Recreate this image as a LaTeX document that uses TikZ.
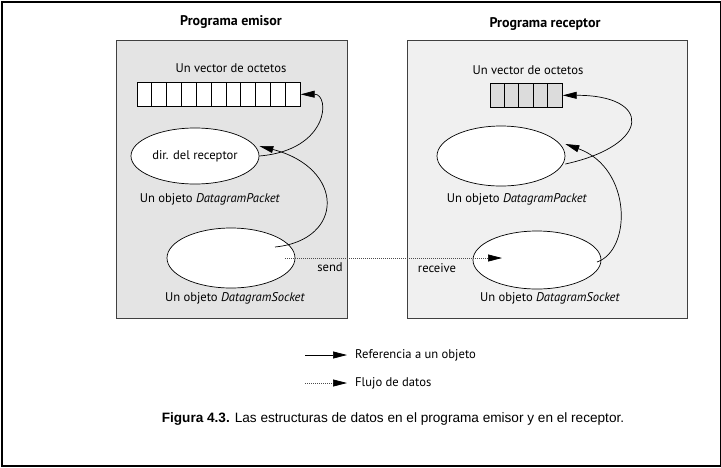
\documentclass[tikz,border=0pt]{standalone}
\usepackage{fontspec}
\setmainfont{PT Sans}
\newfontfamily\capfont{Liberation Sans}
\usetikzlibrary{arrows.meta,shapes.geometric}
\definecolor{boxL}{HTML}{E4E4E4}
\definecolor{boxR}{HTML}{F0F0F0}
\definecolor{cellR}{HTML}{DCDCDC}
\begin{document}
\begin{tikzpicture}[x=1pt,y=-1pt,
  tip/.style={-{Triangle[length=14pt,width=7pt,color=black]}},
  ref/.style={draw=black, line width=0.7pt, tip},
  flow/.style={draw=black!70, line width=0.7pt, dash pattern=on 1pt off 1pt, tip},
  progbox/.style={draw=black!75, line width=1pt, inner sep=0pt, anchor=north west},
  obj/.style={ellipse, draw=black, line width=0.7pt, fill=white, inner sep=0pt},
  lbl/.style={font=\fontsize{12.6}{14}\selectfont, inner sep=0pt},
  ttl/.style={font=\fontsize{14}{16}\selectfont\bfseries, inner sep=0pt},
  arr/.style={draw=black, line width=0.7pt, inner sep=0pt, anchor=north west}
]
\useasboundingbox (0,0) rectangle (721,467);
\node[draw=black, line width=2pt, minimum width=719pt, minimum height=464pt, anchor=north west, inner sep=0pt] (frame) at (1,1) {};
% boxes
\node[progbox, fill=boxL, minimum width=231pt, minimum height=278pt] (boxL) at (116,40) {};
\node[progbox, fill=boxR, minimum width=280pt, minimum height=278pt] (boxR) at (407,40) {};
\node[ttl] (tL) at (231,22) {Programa emisor};
\node[ttl] (tR) at (545,24) {Programa receptor};
% left side
\node[lbl] (vL) at (231,68) {Un vector de octetos};
\node[arr, fill=white, minimum width=163pt, minimum height=24pt] (aL) at (137,82) {};
\foreach \i in {1,...,10} \draw[line width=0.7pt] ([xshift=\i*14.818pt]aL.north west) -- ([xshift=\i*14.818pt]aL.south west);
\node[obj, minimum width=128pt, minimum height=56pt, font=\fontsize{12.6}{14}\selectfont] (e1L) at (195,156) {dir. del receptor};
\node[lbl] (pL) at (210,199) {Un objeto \textit{DatagramPacket}};
\node[obj, minimum width=128pt, minimum height=60pt] (e2L) at (231,258) {};
\node[lbl] (sL) at (235,298) {Un objeto \textit{DatagramSocket}};
% right side
\node[lbl] (vR) at (528,70) {Un vector de octetos};
\node[arr, fill=cellR, minimum width=72pt, minimum height=24pt] (aR) at (490,83) {};
\foreach \i in {1,...,4} \draw[line width=0.7pt] ([xshift=\i*14.4pt]aR.north west) -- ([xshift=\i*14.4pt]aR.south west);
\node[obj, minimum width=128pt, minimum height=60pt] (e1R) at (501,156) {};
\node[lbl] (pR) at (517,199) {Un objeto \textit{DatagramPacket}};
\node[obj, minimum width=128pt, minimum height=58pt] (e2R) at (537,260) {};
\node[lbl] (sR) at (550,298) {Un objeto \textit{DatagramSocket}};
% connectors
\coordinate (s2L) at ([xshift=44pt,yshift=11pt]e2L.center);
\coordinate (s2R) at ([xshift=60pt,yshift=-2pt]e2R.center);
\coordinate (fromL) at ([xshift=54pt,yshift=0pt]e2L.center);
\coordinate (toR) at ([xshift=-35pt,yshift=2pt]e2R.center);
\draw[ref] (e1L.east) .. controls (330,150) and (330,94) .. (aL.east);
\draw[ref] (s2L) .. controls (345,240) and (345,168) .. ([yshift=10pt]e1L.east);
\draw[ref] ([yshift=-8pt]e1R.east) .. controls (652,145) and (652,95) .. (aR.east);
\draw[ref] (s2R) .. controls (632,250) and (632,168) .. ([yshift=12pt]e1R.east);
\draw[flow] (fromL) -- (toR);
\node[lbl] (send) at (330,267) {send};
\node[lbl] (recv) at (437,268) {receive};
% legend
\coordinate (l1a) at (305,355); \coordinate (l1b) at (347,355);
\coordinate (l2a) at (305,383); \coordinate (l2b) at (347,383);
\draw[ref] (l1a) -- (l1b);
\draw[flow] (l2a) -- (l2b);
\node[lbl, anchor=west] (leg1) at (355,355) {Referencia a un objeto};
\node[lbl, anchor=west] (leg2) at (355,383) {Flujo de datos};
% caption
\node[font=\capfont\fontsize{13.6}{15}\selectfont, inner sep=0pt] (cap) at (393,419) {\textbf{Figura 4.3.} Las estructuras de datos en el programa emisor y en el receptor.};
\end{tikzpicture}
\end{document}
